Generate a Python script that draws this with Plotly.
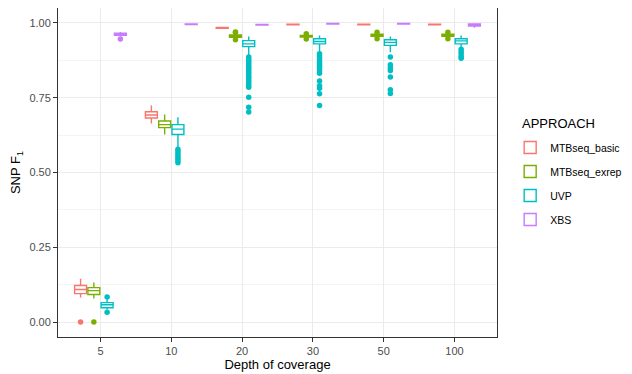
import plotly.graph_objects as go

depths = ["5", "10", "20", "30", "50", "100"]
approaches = ["MTBseq_basic", "MTBseq_exrep", "UVP", "XBS"]
colors = ["#F8766D", "#7CAE00", "#00BFC4", "#C77CFF"]

# per approach: lower whisker, q1, median, q3, upper whisker, outliers (per depth)
basic_low = [0.082, 0.664, 0.980, 0.993, 0.993, 0.993]
basic_q1 = [0.095, 0.682, 0.982, 0.994, 0.994, 0.994]
basic_med = [0.109, 0.692, 0.983, 0.995, 0.995, 0.995]
basic_q3 = [0.122, 0.703, 0.985, 0.996, 0.996, 0.996]
basic_high = [0.145, 0.724, 0.987, 0.997, 0.997, 0.997]
basic_out = [[0.0], [], [], [], [], []]

exrep_low = [0.079, 0.627, 0.948, 0.950, 0.951, 0.951]
exrep_q1 = [0.092, 0.650, 0.952, 0.953, 0.955, 0.955]
exrep_med = [0.105, 0.660, 0.956, 0.956, 0.959, 0.959]
exrep_q3 = [0.115, 0.672, 0.960, 0.958, 0.962, 0.962]
exrep_high = [0.132, 0.694, 0.964, 0.961, 0.966, 0.966]
exrep_out = [[0.0], [], [0.944, 0.968, 0.970], [0.946, 0.964], [0.947, 0.969], [0.947, 0.969]]

uvp_low = [0.042, 0.585, 0.891, 0.902, 0.902, 0.917]
uvp_q1 = [0.048, 0.627, 0.921, 0.930, 0.925, 0.930]
uvp_med = [0.058, 0.645, 0.930, 0.938, 0.935, 0.940]
uvp_q3 = [0.065, 0.660, 0.941, 0.947, 0.944, 0.947]
uvp_high = [0.075, 0.685, 0.955, 0.958, 0.955, 0.958]
uvp_out = [
    [0.033, 0.084],
    [0.578, 0.570, 0.562, 0.555, 0.548, 0.540, 0.533],
    [0.886, 0.879, 0.872, 0.865, 0.858, 0.851, 0.844, 0.837, 0.830, 0.822,
     0.815, 0.808, 0.800, 0.792, 0.785, 0.752, 0.718, 0.702],
    [0.897, 0.890, 0.883, 0.876, 0.869, 0.862, 0.855, 0.848, 0.840, 0.832,
     0.806, 0.790, 0.782, 0.763, 0.724],
    [0.886, 0.860, 0.850, 0.841, 0.819, 0.777, 0.764],
    [0.912, 0.904, 0.896, 0.888, 0.882],
]

xbs_low = [0.955, 0.993, 0.992, 0.995, 0.995, 0.984]
xbs_q1 = [0.959, 0.995, 0.993, 0.996, 0.996, 0.990]
xbs_med = [0.962, 0.996, 0.994, 0.997, 0.997, 0.994]
xbs_q3 = [0.966, 0.997, 0.995, 0.998, 0.998, 0.997]
xbs_high = [0.970, 0.998, 0.996, 0.999, 0.999, 0.999]
xbs_out = [[0.946], [], [], [], [], []]

stats = [
    (basic_low, basic_q1, basic_med, basic_q3, basic_high, basic_out),
    (exrep_low, exrep_q1, exrep_med, exrep_q3, exrep_high, exrep_out),
    (uvp_low, uvp_q1, uvp_med, uvp_q3, uvp_high, uvp_out),
    (xbs_low, xbs_q1, xbs_med, xbs_q3, xbs_high, xbs_out),
]

dodge = 0.75
n = len(approaches)
slot = dodge / n
box_w = slot * 0.9

fig = go.Figure()
for k, (name, col, st) in enumerate(zip(approaches, colors, stats)):
    low, q1, med, q3, high, outs = st
    off = (k - (n - 1) / 2) * slot
    xs = [i + off for i in range(len(depths))]
    fig.add_trace(go.Box(
        x=xs, q1=q1, median=med, q3=q3, lowerfence=low, upperfence=high,
        name=name, legendgroup=name, width=box_w,
        line=dict(color=col, width=1.4), fillcolor="white",
        whiskerwidth=0, boxpoints=False, hoverinfo="skip",
    ))
    ox, oy = [], []
    for i, vals in enumerate(outs):
        for v in vals:
            ox.append(i + off)
            oy.append(v)
    fig.add_trace(go.Scatter(
        x=ox, y=oy, mode="markers", showlegend=False, legendgroup=name,
        marker=dict(color=col, size=5.5), hoverinfo="skip",
    ))

# The page body adds an 8px margin, so the figure is 8px smaller than the window.
fig.update_layout(
    width=624, height=366,
    margin=dict(l=50, r=135, t=0, b=37, autoexpand=False),
    paper_bgcolor="white", plot_bgcolor="white",
    font=dict(family="Liberation Sans, Arial, sans-serif", size=11, color="#000000"),
    showlegend=True,
    legend=dict(
        x=1.03, xanchor="left", y=0.62, yanchor="top",
        font=dict(size=10.5), tracegroupgap=5, bgcolor="rgba(0,0,0,0)",
    ),
    annotations=[dict(
        text="APPROACH", xref="paper", yref="paper", x=1.052, y=0.65,
        xanchor="left", yanchor="middle", showarrow=False,
        font=dict(size=13, color="#000000"),
    )],
)
fig.update_xaxes(
    range=[-0.6, 5.6], tickmode="array", tickvals=list(range(len(depths))),
    ticktext=depths, showgrid=True, gridcolor="#EBEBEB", gridwidth=1,
    zeroline=False, showline=True, mirror=True, linecolor="#333333", linewidth=1,
    ticks="outside", ticklen=4, tickcolor="#333333", automargin=False,
    tickfont=dict(size=11, color="#4D4D4D"),
    title=dict(text="Depth of coverage", font=dict(size=13), standoff=2),
)
fig.update_yaxes(
    range=[-0.05, 1.05], tickmode="array", tickvals=[0, 0.25, 0.5, 0.75, 1.0],
    ticktext=["0.00", "0.25", "0.50", "0.75", "1.00"],
    showgrid=True, gridcolor="#EBEBEB", gridwidth=1,
    minor=dict(tickvals=[0.125, 0.375, 0.625, 0.875], showgrid=True,
               gridcolor="#F4F4F4", gridwidth=0.6, ticks=""),
    zeroline=False, showline=True, mirror=True, linecolor="#333333", linewidth=1,
    ticks="outside", ticklen=4, tickcolor="#333333", automargin=False,
    tickfont=dict(size=11, color="#4D4D4D"),
    title=dict(text="SNP F<sub>1</sub>", font=dict(size=13), standoff=5),
)

fig.write_html("out.html")
